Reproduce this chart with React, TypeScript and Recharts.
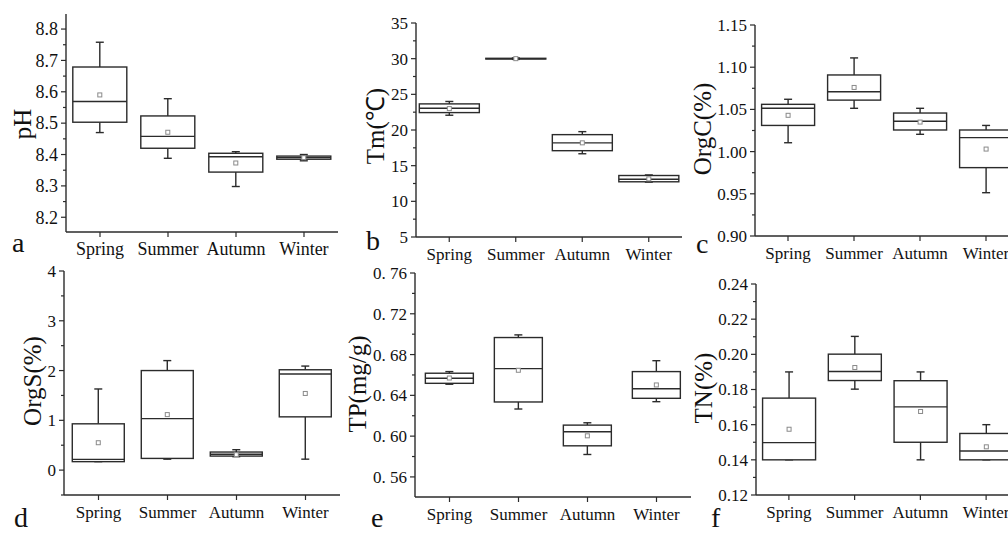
import React from 'react';
import { ComposedChart, Bar, XAxis, YAxis } from 'recharts';

const seasons = ['Spring', 'Summer', 'Autumn', 'Winter'];

// each row: [min, q1, median, q3, max, mean]
const phStats = [
  [8.47, 8.503, 8.569, 8.679, 8.758, 8.59],
  [8.388, 8.42, 8.458, 8.523, 8.578, 8.471],
  [8.298, 8.344, 8.393, 8.404, 8.409, 8.373],
  [8.38, 8.385, 8.39, 8.395, 8.4, 8.39],
];
const tmStats = [
  [22.07, 22.44, 23.05, 23.66, 24.0, 23.0],
  [29.9, 29.95, 30.0, 30.05, 30.1, 30.0],
  [16.67, 17.1, 18.2, 19.35, 19.77, 18.2],
  [12.7, 12.74, 13.1, 13.62, 13.7, 13.15],
];
const orgCStats = [
  [1.0105, 1.031, 1.0513, 1.056, 1.062, 1.043],
  [1.0513, 1.061, 1.071, 1.0908, 1.111, 1.076],
  [1.0205, 1.0256, 1.036, 1.0457, 1.0513, 1.035],
  [0.9513, 0.981, 1.0166, 1.0256, 1.031, 1.003],
];
const orgSStats = [
  [0.17, 0.17, 0.215, 0.93, 1.63, 0.55],
  [0.22, 0.235, 1.034, 2.0, 2.2, 1.115],
  [0.27, 0.282, 0.32, 0.363, 0.41, 0.31],
  [0.22, 1.07, 1.93, 2.016, 2.09, 1.54],
];
const tpStats = [
  [0.6509, 0.6518, 0.6568, 0.6617, 0.6633, 0.657],
  [0.6266, 0.6335, 0.6662, 0.6967, 0.6993, 0.6646],
  [0.582, 0.5905, 0.6043, 0.6108, 0.6131, 0.6003],
  [0.6338, 0.6371, 0.6465, 0.6633, 0.674, 0.6502],
];
const tnStats = [
  [0.14, 0.14, 0.1498, 0.1751, 0.19, 0.1574],
  [0.1802, 0.1851, 0.1902, 0.2001, 0.2102, 0.1925],
  [0.14, 0.15, 0.1701, 0.185, 0.19, 0.1675],
  [0.14, 0.14, 0.145, 0.155, 0.16, 0.1474],
];

const phTicks = [8.2, 8.3, 8.4, 8.5, 8.6, 8.7, 8.8];
const phMinor = [8.25, 8.35, 8.45, 8.55, 8.65, 8.75];
const tmTicks = [5, 10, 15, 20, 25, 30, 35];
const tmMinor = [7.5, 12.5, 17.5, 22.5, 27.5, 32.5];
const orgCTicks = [0.9, 0.95, 1.0, 1.05, 1.1, 1.15];
const orgCMinor = [0.925, 0.975, 1.025, 1.075, 1.125];
const orgSTicks = [0, 1, 2, 3, 4];
const orgSMinor = [-0.5, 0.5, 1.5, 2.5, 3.5];
const tpTicks = [0.56, 0.6, 0.64, 0.68, 0.72, 0.76];
const tpMinor = [0.58, 0.62, 0.66, 0.7, 0.74];
const tnTicks = [0.12, 0.14, 0.16, 0.18, 0.2, 0.22, 0.24];
const tnMinor = [0.13, 0.15, 0.17, 0.19, 0.21, 0.23];

const FONT = "'Liberation Serif', 'Times New Roman', serif";
const AX = '#2b2b2b';

type Cfg = {
  stats: number[][];
  domain: [number, number];
  major: number[];
  minor: number[];
  fmt: (v: number) => string;
  title: string;
  letter: string;
  plot: { l: number; t: number; r: number; b: number };
  titlePos: [number, number];
  letterPos: [number, number];
  gap: string;
  tickFont: number;
};

const panels: Cfg[] = [
  {
    stats: phStats, domain: [8.153, 8.848], major: phTicks, minor: phMinor,
    fmt: (v) => v.toFixed(1), title: 'pH', letter: 'a',
    plot: { l: 66, t: 14, r: 338, b: 232 }, titlePos: [22, 124], letterPos: [12, 252],
    gap: '10%', tickFont: 18,
  },
  {
    stats: tmStats, domain: [5, 35], major: tmTicks, minor: tmMinor,
    fmt: (v) => String(Math.round(v)), title: 'Tm(℃)', letter: 'b',
    plot: { l: 416, t: 23, r: 682, b: 237 }, titlePos: [375, 126], letterPos: [366, 250],
    gap: '5%', tickFont: 17,
  },
  {
    stats: orgCStats, domain: [0.9, 1.15], major: orgCTicks, minor: orgCMinor,
    fmt: (v) => v.toFixed(2), title: 'OrgC(%)', letter: 'c',
    plot: { l: 755, t: 25, r: 1019, b: 236 }, titlePos: [702, 129], letterPos: [696, 253],
    gap: '10%', tickFont: 17,
  },
  {
    stats: orgSStats, domain: [-0.5, 4], major: orgSTicks, minor: orgSMinor,
    fmt: (v) => String(Math.round(v)), title: 'OrgS(%)', letter: 'd',
    plot: { l: 64, t: 271, r: 340, b: 495 }, titlePos: [32, 381], letterPos: [14, 527],
    gap: '12%', tickFont: 17,
  },
  {
    stats: tpStats, domain: [0.5403, 0.76], major: tpTicks, minor: tpMinor,
    fmt: (v) => v.toFixed(2).replace('.', '.\u00A0'), title: 'TP(mg/g)', letter: 'e',
    plot: { l: 415, t: 273, r: 691, b: 497 }, titlePos: [357, 384], letterPos: [371, 527],
    gap: '15%', tickFont: 17,
  },
  {
    stats: tnStats, domain: [0.12, 0.24], major: tnTicks, minor: tnMinor,
    fmt: (v) => v.toFixed(2), title: 'TN(%)', letter: 'f',
    plot: { l: 756, t: 284, r: 1019, b: 495 }, titlePos: [703, 388], letterPos: [711, 527],
    gap: '10%', tickFont: 17,
  },
];

function BoxShape(props: any) {
  const { x, y, width, height, payload } = props;
  if (x == null || y == null || !payload) return null;
  const [mn, q1, med, q3, mx, mean] = payload.stats as number[];
  const top = Math.min(y, y + height);
  const h = Math.abs(height);
  const span = mx - mn;
  const py = (v: number) => (span === 0 ? top : top + (h * (mx - v)) / span);
  const cx = x + width / 2;
  const cap = 4;
  const sw = 1.4;
  return (
    <g>
      <line x1={cx} x2={cx} y1={py(mx)} y2={py(q3)} stroke={AX} strokeWidth={sw} />
      <line x1={cx} x2={cx} y1={py(q1)} y2={py(mn)} stroke={AX} strokeWidth={sw} />
      <line x1={cx - cap} x2={cx + cap} y1={py(mx)} y2={py(mx)} stroke={AX} strokeWidth={sw} />
      <line x1={cx - cap} x2={cx + cap} y1={py(mn)} y2={py(mn)} stroke={AX} strokeWidth={sw} />
      <rect x={x} y={py(q3)} width={width} height={Math.max(py(q1) - py(q3), 0.5)} fill="#fff" stroke={AX} strokeWidth={sw} />
      <line x1={x} x2={x + width} y1={py(med)} y2={py(med)} stroke={AX} strokeWidth={sw} />
      <rect x={cx - 2} y={py(mean) - 2} width={4} height={4} fill="#fff" stroke="#8a8a8a" strokeWidth={1} />
    </g>
  );
}

function Panel({ cfg }: { cfg: Cfg }) {
  const YW = 70, MT = 10, MR = 10, XH = 40;
  const { l, t, r, b } = cfg.plot;
  const width = r - l + YW + MR;
  const height = b - t + MT + XH;
  const data = seasons.map((s, i) => ({
    season: s,
    range: [cfg.stats[i][0], cfg.stats[i][4]],
    stats: cfg.stats[i],
  }));
  const allTicks = [...cfg.major, ...cfg.minor].sort((p, q) => p - q);
  const isMajor = (v: number) => cfg.major.some((m) => Math.abs(m - v) < 1e-9);
  return (
    <div style={{ position: 'absolute', left: l - YW, top: t - MT, width, height }}>
      <ComposedChart
        width={width}
        height={height}
        data={data}
        margin={{ top: MT, right: MR, bottom: 0, left: 0 }}
        barCategoryGap={cfg.gap}
      >
        <XAxis
          dataKey="season"
          height={XH}
          interval={0}
          tickSize={0}
          tickMargin={0}
          tickLine={false}
          axisLine={{ stroke: AX, strokeWidth: 1.4 }}
          tick={(p: any) => (
            <g>
              <line x1={p.x} x2={p.x} y1={p.y} y2={p.y + 5} stroke={AX} strokeWidth={1.2} />
              <text
                x={p.x}
                y={p.y + 23}
                textAnchor="middle"
                fontFamily={FONT}
                style={{ fontFamily: FONT }}
                fontSize={cfg.tickFont}
                fill="#111"
              >
                {p.payload.value}
              </text>
            </g>
          )}
        />
        <YAxis
          type="number"
          width={YW}
          domain={cfg.domain}
          ticks={allTicks}
          allowDataOverflow
          interval={0}
          tickSize={0}
          tickMargin={0}
          tickLine={false}
          axisLine={{ stroke: AX, strokeWidth: 1.4 }}
          tick={(p: any) => {
            const maj = isMajor(p.payload.value);
            return (
              <g>
                <line x1={p.x} x2={p.x - (maj ? 5 : 3)} y1={p.y} y2={p.y} stroke={AX} strokeWidth={1.2} />
                {maj && (
                  <text
                    x={p.x - 8}
                    y={p.y}
                    dy="0.35em"
                    textAnchor="end"
                    fontFamily={FONT}
                    style={{ fontFamily: FONT, whiteSpace: 'pre' }}
                    fontSize={cfg.tickFont}
                    fill="#111"
                  >
                    {cfg.fmt(p.payload.value)}
                  </text>
                )}
              </g>
            );
          }}
        />
        <Bar dataKey="range" isAnimationActive={false} shape={(p: any) => <BoxShape {...p} />} />
      </ComposedChart>
    </div>
  );
}

export default function App() {
  return (
    <div style={{ position: 'absolute', left: 0, top: 0, width: 1008, height: 535, overflow: 'hidden', background: '#fff' }}>
      {panels.map((cfg, i) => (
        <Panel key={i} cfg={cfg} />
      ))}
      <svg width={1008} height={535} style={{ position: 'absolute', left: 0, top: 0, pointerEvents: 'none' }}>
        {panels.map((cfg, i) => (
          <g key={i}>
            <text
              x={cfg.titlePos[0]}
              y={cfg.titlePos[1]}
              transform={`rotate(-90 ${cfg.titlePos[0]} ${cfg.titlePos[1]})`}
              textAnchor="middle"
              dy="0.35em"
              fontFamily={FONT}
              style={{ fontFamily: FONT }}
              fontSize={25}
              fill="#111"
            >
              {cfg.title}
            </text>
            <text x={cfg.letterPos[0]} y={cfg.letterPos[1]} fontFamily={FONT} style={{ fontFamily: FONT }} fontSize={28} fill="#111">
              {cfg.letter}
            </text>
          </g>
        ))}
      </svg>
    </div>
  );
}
